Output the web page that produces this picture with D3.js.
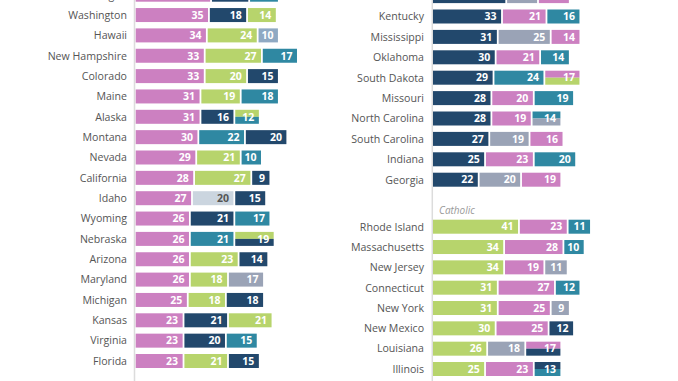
<!DOCTYPE html>
<html><head><meta charset="utf-8">
<script src="https://cdn.jsdelivr.net/npm/d3@7"></script>
<style>
html,body{margin:0;padding:0;background:#fff;}
svg{display:block;font-family:"Open Sans",sans-serif;}
</style></head>
<body>
<svg id="c" width="678" height="381"></svg>
<script>
// ---- Data ----
const leftStates = ["Oregon","Washington","Hawaii","New Hampshire","Colorado","Maine","Alaska","Montana","Nevada","California","Idaho","Wyoming","Nebraska","Arizona","Maryland","Michigan","Kansas","Virginia","Florida"];
const leftValues = [[36,18,14],[35,18,14],[34,24,10],[33,27,17],[33,20,15],[31,19,18],[31,16,12],[30,22,20],[29,21,10],[28,27,9],[27,20,15],[26,21,17],[26,21,19],[26,23,14],[26,18,17],[25,18,18],[23,21,21],[23,20,15],[23,21,15]];
const leftGroups = [["none","evan","main"],["none","evan","cath"],["none","cath","asian"],["none","cath","main"],["none","cath","evan"],["none","cath","main"],["none","evan","cath/main"],["none","main","evan"],["none","cath","main"],["none","cath","evan"],["none","lds","evan"],["none","evan","main"],["none","main","cath/evan"],["none","cath","evan"],["none","cath","black"],["none","cath","evan"],["none","evan","cath"],["none","evan","main"],["none","cath","evan"]];

const rightStates1 = ["Alabama","Kentucky","Mississippi","Oklahoma","South Dakota","Missouri","North Carolina","South Carolina","Indiana","Georgia"];
const rightValues1 = [[35,15,15],[33,21,16],[31,25,14],[30,21,14],[29,24,17],[28,20,19],[28,19,14],[27,19,16],[25,23,20],[22,20,19]];
const rightGroups1 = [["evan","black","none"],["evan","none","main"],["evan","black","none"],["evan","none","main"],["evan","main","none/cath"],["evan","none","main"],["evan","none","main/black"],["evan","black","none"],["evan","none","main"],["evan","black","none"]];

const groupLabel2 = "Catholic";
const rightStates2 = ["Rhode Island","Massachusetts","New Jersey","Connecticut","New York","New Mexico","Louisiana","Illinois"];
const rightValues2 = [[41,23,11],[34,28,10],[34,19,11],[31,27,12],[31,25,9],[30,25,12],[26,18,17],[25,23,13]];
const rightGroups2 = [["cath","none","main"],["cath","none","main"],["cath","none","black"],["cath","none","main"],["cath","none","black"],["cath","none","evan"],["cath","black","none/evan"],["cath","none","evan/main"]];

const colors = {none:"#cc80c1", evan:"#22486c", main:"#2f88a2", cath:"#b7d46c", black:"#9aa3b6", asian:"#8fa9c3", lds:"#cbd5df"};
const textColors = {lds:"#555"};

// ---- Drawing ----
const svg = d3.select("#c");
const x = d3.scaleLinear().domain([0,100]).range([0,211.8]);
const barH = 14, gap = 1.8;

function panel(states, values, groups, x0, labelX, c0, c1){
  const y = d3.scalePoint().domain(states).range([c0, c1]);
  const g = svg.append("g");
  g.selectAll("text.lab").data(states).join("text")
    .attr("class","lab")
    .attr("x", labelX).attr("y", d => y(d)).attr("dy","0.36em")
    .attr("text-anchor","end").attr("font-size",10.6).attr("fill","#555")
    .text(d => d);
  states.forEach((s,i) => {
    let cum = 0;
    values[i].forEach((v,j) => {
      const keys = groups[i][j].split("/");
      const sx = x0 + x(cum), w = x(v) - gap;
      const top = y(s) - barH/2;
      const h = barH / keys.length;
      keys.forEach((k,ki) => {
        g.append("rect").attr("x", sx).attr("y", top + ki*h)
          .attr("width", w).attr("height", h).attr("fill", colors[k]);
      });
      g.append("text").attr("x", sx + w - 4.5).attr("y", y(s)).attr("dy","0.36em")
        .attr("text-anchor","end").attr("font-size",10.5).attr("font-weight","bold")
        .attr("fill", textColors[keys[0]] || "#fff").text(v);
      cum += v;
    });
  });
}

// axis lines
svg.append("line").attr("x1",134.5).attr("x2",134.5).attr("y1",0).attr("y2",381).attr("stroke","#dcdcdc").attr("stroke-width",1.5);
svg.append("line").attr("x1",432.3).attr("x2",432.3).attr("y1",0).attr("y2",381).attr("stroke","#dcdcdc").attr("stroke-width",1.5);

panel(leftStates, leftValues, leftGroups, 135.7, 127, -5.3, 361);
panel(rightStates1, rightValues1, rightGroups1, 433, 424, -3.9, 179.7);
panel(rightStates2, rightValues2, rightGroups2, 433, 424, 226.7, 369);

svg.append("text").attr("x",439).attr("y",210).attr("dy","0.36em")
  .attr("font-size",10).attr("font-style","italic").attr("fill","#9a9a9a").text(groupLabel2);
</script>
</body></html>
